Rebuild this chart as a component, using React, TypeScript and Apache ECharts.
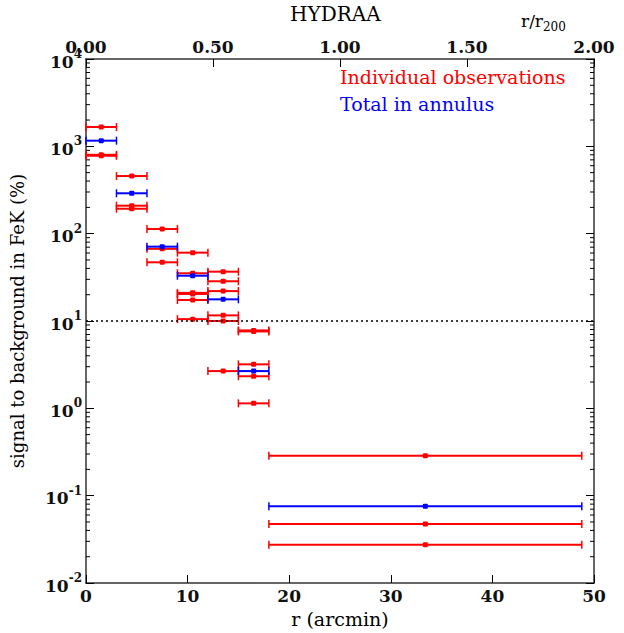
import React, { useEffect, useRef } from "react";
import * as echarts from "echarts";

// annulus bin edges (arcmin)
const binLo = [0, 3, 6, 9, 12, 15, 18];
const binHi = [3, 6, 9, 12, 15, 18, 48.8];

// individual observations per bin (signal to background, %)
const indivBin0 = [1664, 800, 780];
const indivBin1 = [457, 209, 193];
const indivBin2 = [113, 67, 47];
const indivBin3 = [60.6, 35.2, 21.0, 20.4, 17.4, 10.5];
const indivBin4 = [36.7, 28.5, 22.0, 11.6, 10.0, 2.67];
const indivBin5 = [7.8, 7.6, 3.19, 2.33, 1.14];
const indivBin6 = [0.287, 0.0473, 0.0275];
const individual = [indivBin0, indivBin1, indivBin2, indivBin3, indivBin4, indivBin5, indivBin6];

// total in annulus per bin
const totalValues = [1161, 290, 71, 33, 17.7, 2.67, 0.0755];

const xTicks = [0, 10, 20, 30, 40, 50];
const topTicks = [0, 0.5, 1.0, 1.5, 2.0];
const yDecades = [-2, -1, 0, 1, 2, 3, 4];
const threshold = 10;

const SERIF = "DejaVu Serif";

export default function App() {
  const ref = useRef<HTMLDivElement>(null);
  useEffect(() => {
    if (!ref.current) return;
    const chart = echarts.init(ref.current, undefined, { renderer: "svg" });

    const indivData: number[][] = [];
    individual.forEach((vals, i) => vals.forEach((v) => indivData.push([binLo[i], binHi[i], v])));
    const totalData = totalValues.map((v, i) => [binLo[i], binHi[i], v]);

    const minorVals: number[][] = [];
    for (let k = yDecades[0]; k < yDecades[yDecades.length - 1]; k++) {
      for (let m = 2; m <= 9; m++) minorVals.push([m * Math.pow(10, k)]);
    }

    const errRender = (color: string) => (params: any, api: any) => {
      const x0 = api.value(0), x1 = api.value(1), y = api.value(2);
      const lo = api.coord([x0, y]);
      const hi = api.coord([x1, y]);
      const c = api.coord([(x0 + x1) / 2, y]);
      const st = { stroke: color, lineWidth: 2 };
      return {
        type: "group",
        children: [
          { type: "line", shape: { x1: lo[0], y1: lo[1], x2: hi[0], y2: hi[1] }, style: st },
          { type: "line", shape: { x1: lo[0], y1: lo[1] - 4, x2: lo[0], y2: lo[1] + 4 }, style: { stroke: color, lineWidth: 1.5 } },
          { type: "line", shape: { x1: hi[0], y1: hi[1] - 4, x2: hi[0], y2: hi[1] + 4 }, style: { stroke: color, lineWidth: 1.5 } },
          { type: "rect", shape: { x: c[0] - 2.5, y: c[1] - 2.5, width: 5, height: 5, r: 1 }, style: { fill: color } },
        ],
      };
    };

    const axisCommon = {
      axisLine: { show: true, onZero: false, lineStyle: { color: "#333", width: 1.5 } },
      axisTick: { show: true, inside: true, length: 8, lineStyle: { color: "#000", width: 1 } },
      splitLine: { show: false },
    };
    const tickFont = { color: "#111", fontFamily: SERIF, fontSize: 17, fontWeight: "bold" as const };

    const option: any = {
      animation: false,
      backgroundColor: "#fff",
      grid: { left: 86, right: 30, top: 59, bottom: 50, containLabel: false },
      xAxis: [
        {
          type: "value",
          position: "bottom",
          min: xTicks[0],
          max: xTicks[xTicks.length - 1],
          interval: 10,
          ...axisCommon,
          axisLabel: { ...tickFont, margin: 4 },
          name: "r (arcmin)",
          nameLocation: "middle",
          nameGap: 26,
          nameTextStyle: { color: "#000", fontFamily: SERIF, fontSize: 19 },
        },
        {
          type: "value",
          position: "top",
          min: topTicks[0],
          max: topTicks[topTicks.length - 1],
          interval: 0.5,
          ...axisCommon,
          axisLabel: { ...tickFont, margin: 4, formatter: (v: number) => v.toFixed(2) },
        },
      ],
      yAxis: [
        {
          type: "log",
          logBase: 10,
          position: "left",
          min: Math.pow(10, yDecades[0]),
          max: Math.pow(10, yDecades[yDecades.length - 1]),
          splitNumber: 6,
          ...axisCommon,
          axisLabel: {
            margin: 4,
            formatter: (v: number) => "{b|10}{s|" + Math.round(Math.log10(v)) + "}",
            rich: {
              b: { ...tickFont, verticalAlign: "bottom", padding: [5, 0, 0, 0] },
              s: { color: "#111", fontFamily: SERIF, fontSize: 12, fontWeight: "bold", verticalAlign: "top" },
            },
          },
          name: "signal to background in FeK (%)",
          nameLocation: "middle",
          nameGap: 60,
          nameTextStyle: { color: "#000", fontFamily: SERIF, fontSize: 18 },
        },
        {
          type: "log",
          logBase: 10,
          position: "right",
          min: Math.pow(10, yDecades[0]),
          max: Math.pow(10, yDecades[yDecades.length - 1]),
          splitNumber: 6,
          ...axisCommon,
          axisLabel: { show: false },
        },
      ],
      graphic: [
        { type: "text", left: 290, top: 4, style: { text: "HYDRAA", font: `20px '${SERIF}'`, fill: "#000" } },
        {
          type: "text",
          left: 521,
          top: 12,
          style: {
            text: "{a|r/r}{s|200}",
            rich: {
              a: { fontFamily: SERIF, fontSize: 17, fill: "#000", verticalAlign: "top", padding: [0, 0, 4, 0] },
              s: { fontFamily: SERIF, fontSize: 12, fill: "#000", verticalAlign: "bottom" },
            },
          },
        },
        { type: "text", left: 340, top: 67, style: { text: "Individual observations", font: `19px '${SERIF}'`, fill: "#ff0000" } },
        { type: "text", left: 340, top: 94, style: { text: "Total in annulus", font: `19px '${SERIF}'`, fill: "#0000ff" } },
      ],
      series: [
        {
          type: "custom",
          name: "minor ticks",
          xAxisIndex: 0,
          yAxisIndex: 0,
          silent: true,
          clip: false,
          data: minorVals,
          encode: { y: 0 },
          renderItem: (params: any, api: any) => {
            const v = api.value(0);
            const l = api.coord([xTicks[0], v]);
            const r = api.coord([xTicks[xTicks.length - 1], v]);
            return {
              type: "group",
              children: [
                { type: "line", shape: { x1: l[0], y1: l[1], x2: l[0] + 4, y2: l[1] }, style: { stroke: "#000", lineWidth: 1 } },
                { type: "line", shape: { x1: r[0], y1: r[1], x2: r[0] - 4, y2: r[1] }, style: { stroke: "#000", lineWidth: 1 } },
              ],
            };
          },
        },
        {
          type: "custom",
          name: "Individual observations",
          xAxisIndex: 0,
          yAxisIndex: 0,
          data: indivData,
          encode: { x: [0, 1], y: 2 },
          renderItem: errRender("#ff0000"),
          markLine: {
            silent: true,
            symbol: "none",
            label: { show: false },
            lineStyle: { color: "#000", type: [2, 3], width: 1.5 },
            data: [{ yAxis: threshold }],
          },
        },
        {
          type: "custom",
          name: "Total in annulus",
          xAxisIndex: 0,
          yAxisIndex: 0,
          data: totalData,
          encode: { x: [0, 1], y: 2 },
          renderItem: errRender("#0000ff"),
        },
      ],
    };
    chart.setOption(option);
    return () => chart.dispose();
  }, []);

  return (
    <div
      ref={ref}
      style={{ position: "fixed", left: 0, top: 0, width: 624, height: 633, background: "#fff" }}
    />
  );
}
